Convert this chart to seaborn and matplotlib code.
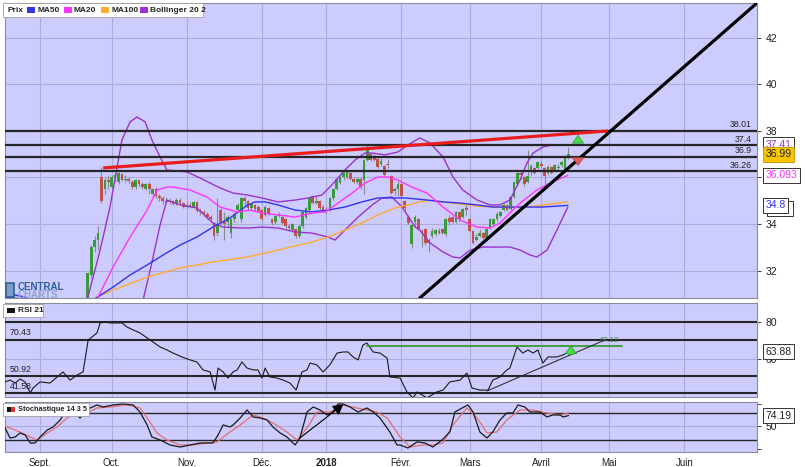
import numpy as np
import pandas as pd
import seaborn as sns
import matplotlib.pyplot as plt
from matplotlib.patches import Rectangle

# ---------------- data ----------------
# x axis = trading-day index, 0 = 1 Sept 2017
month_labels = ["Sept.", "Oct.", "Nov.", "Déc.", "2018", "Févr.", "Mars", "Avril", "Mai", "Juin"]
month_pos = [0, 21, 43, 65, 84, 106, 126, 147, 167, 189]

candle_start = 14
opens = [30.5, 31.8, 33.0, 33.3, 36.0, 35.5, 35.9, 35.6, 36.0, 35.8, 36.15, 35.9, 35.95, 35.8, 35.6, 35.9, 35.7, 35.5, 35.7, 35.3,
         35.5, 35.2, 35.1, 35.0, 34.95, 35.0, 34.85, 35.05, 34.9, 34.75, 34.8, 34.75, 34.95, 34.55, 34.5, 34.45, 34.3, 34.05, 33.6, 34.6,
         34.1, 34.1, 33.6, 34.2, 34.6, 34.2, 35.1, 35.0, 34.7, 34.8, 34.75, 34.6, 34.4, 34.7, 34.2, 34.1, 34.35, 34.3, 34.2, 33.9,
         33.75, 33.8, 33.5, 33.9, 34.3, 34.6, 35.2, 34.9, 35.0, 34.75, 34.55, 34.6, 35.1, 35.5, 35.75, 36.0, 36.0, 36.2, 35.95, 35.8,
         35.95, 35.9, 36.75, 37.0, 36.9, 36.8, 36.6, 36.5, 36.6, 36.05, 35.4, 35.5, 35.7, 35.0, 34.3, 33.15, 34.1, 34.2, 33.7, 33.8,
         33.3, 33.5, 33.55, 33.7, 33.8, 33.55, 34.25, 34.3, 34.1, 34.5, 34.3, 34.7, 34.2, 33.7, 33.3, 33.5, 33.6, 33.4, 33.85, 34.0,
         34.2, 34.35, 34.6, 34.8, 34.65, 35.15, 35.7, 36.2, 36.0, 35.8, 36.25, 36.4, 36.4, 36.6, 36.4, 36.2, 36.45, 36.3, 36.4, 36.55,
         36.3, 36.9]
highs = [31.95, 33.1, 33.5, 33.9, 36.45, 36.0, 36.1, 36.1, 36.2, 36.25, 36.2, 36.1, 36.0, 35.9, 35.95, 35.9, 35.8, 35.75, 35.8, 35.55,
         35.6, 35.3, 35.2, 35.15, 35.1, 35.05, 35.1, 35.1, 34.95, 34.95, 34.95, 35.0, 35.0, 34.7, 34.6, 34.5, 34.4, 34.1, 35.1, 34.7,
         34.5, 34.4, 34.25, 34.5, 34.9, 35.15, 35.2, 35.05, 34.9, 34.85, 34.8, 34.65, 34.8, 34.75, 34.25, 34.4, 34.5, 34.35, 34.25, 34.0,
         34.05, 33.85, 33.95, 34.55, 34.75, 35.15, 35.25, 35.2, 35.05, 34.8, 34.75, 35.15, 35.55, 36.0, 36.05, 36.3, 36.3, 36.25, 36.0, 36.0,
         36.0, 36.8, 37.45, 37.05, 37.0, 36.85, 36.85, 36.55, 36.8, 36.1, 35.6, 35.85, 35.75, 35.05, 34.4, 34.0, 34.4, 34.25, 33.8, 33.85,
         33.4, 33.85, 33.8, 33.85, 33.85, 34.25, 34.4, 34.35, 34.55, 34.55, 34.7, 34.8, 34.25, 33.75, 33.55, 33.8, 33.65, 33.85, 34.25, 34.25,
         34.5, 34.55, 34.9, 34.85, 35.2, 35.85, 36.25, 36.3, 36.05, 37.2, 36.6, 36.45, 36.7, 36.7, 36.45, 36.55, 36.5, 36.6, 36.6, 36.7,
         36.95, 37.3]
lows = [30.4, 31.7, 32.8, 32.9, 34.9, 35.3, 35.5, 35.5, 35.8, 35.7, 35.85, 35.8, 35.75, 35.5, 35.5, 35.6, 35.5, 35.45, 35.3, 35.2,
        35.1, 35.0, 34.85, 34.85, 34.85, 34.8, 34.8, 34.8, 34.7, 34.7, 34.7, 34.7, 34.5, 34.4, 34.35, 34.2, 34.1, 33.3, 33.5, 34.0,
        33.3, 33.9, 33.4, 34.1, 34.5, 34.1, 34.8, 34.6, 34.6, 34.55, 34.5, 34.15, 34.35, 34.4, 33.95, 34.0, 34.3, 34.0, 33.85, 33.7,
        33.65, 33.4, 33.4, 33.85, 34.2, 34.5, 34.85, 34.85, 34.6, 34.5, 34.45, 34.55, 35.05, 35.45, 35.7, 35.9, 35.95, 35.9, 35.75, 35.7,
        35.5, 35.3, 36.7, 36.7, 36.7, 36.4, 36.5, 36.05, 36.4, 35.3, 35.25, 35.2, 35.1, 34.6, 34.0, 32.95, 33.9, 33.75, 33.0, 33.1,
        32.8, 33.4, 33.5, 33.55, 33.55, 33.5, 33.95, 34.05, 34.05, 34.1, 34.25, 34.4, 33.65, 33.15, 33.25, 33.45, 33.35, 33.35, 33.8, 33.95,
        34.15, 34.3, 34.55, 34.55, 34.6, 35.1, 35.65, 35.95, 35.65, 35.75, 36.1, 36.15, 36.35, 36.4, 35.6, 36.1, 36.15, 36.25, 36.3, 36.45,
        36.25, 36.8]
closes = [31.9, 33.0, 33.3, 33.6, 35.0, 35.9, 35.8, 36.0, 36.1, 36.2, 35.9, 35.95, 35.85, 35.6, 35.9, 35.7, 35.6, 35.7, 35.5, 35.5,
          35.2, 35.1, 35.0, 34.95, 35.0, 34.85, 35.05, 34.9, 34.75, 34.8, 34.75, 34.95, 34.55, 34.5, 34.45, 34.3, 34.2, 33.5, 34.0, 34.1,
          34.0, 34.3, 34.2, 34.4, 34.8, 35.1, 35.0, 34.7, 34.85, 34.65, 34.55, 34.2, 34.75, 34.45, 34.05, 34.35, 34.4, 34.05, 33.9, 33.85,
          34.0, 33.5, 33.9, 34.5, 34.7, 35.1, 34.9, 35.0, 34.7, 34.55, 34.6, 35.1, 35.5, 35.95, 36.0, 36.2, 36.25, 35.95, 35.8, 35.95,
          35.6, 36.75, 37.25, 36.75, 36.75, 36.45, 36.7, 36.1, 36.55, 35.35, 35.5, 35.7, 35.2, 34.7, 34.05, 33.95, 34.3, 33.8, 33.6, 33.2,
          33.2, 33.7, 33.75, 33.6, 33.6, 34.2, 34.1, 34.1, 34.5, 34.2, 34.65, 34.6, 33.7, 33.2, 33.45, 33.6, 33.4, 33.8, 34.2, 34.2,
          34.45, 34.5, 34.8, 34.6, 35.15, 35.8, 36.2, 36.1, 35.7, 36.05, 36.5, 36.2, 36.65, 36.5, 36.05, 36.45, 36.2, 36.55, 36.45, 36.65,
          36.9, 36.99]

ma20_pts = [(15.5, 30.3), (17.0, 30.86), (21.4, 32.15), (26.4, 33.44), (31.4, 34.60), (34.3, 35.46), (37.2, 35.59), (39.0, 35.59),
            (44.0, 35.46), (49.0, 35.16), (52.8, 34.73), (57.8, 34.52), (61.6, 34.60), (65.1, 34.47), (69.8, 34.39), (74.8, 34.30),
            (79.8, 34.47), (83.6, 34.52), (87.4, 34.90), (91.5, 35.33), (95.3, 35.76), (99.1, 36.02), (102.0, 36.02), (105.0, 35.89),
            (109.0, 35.59), (113.5, 35.33), (118.2, 34.73), (123.2, 34.17), (128.2, 33.87), (132.0, 33.83), (134.9, 34.04),
            (137.8, 34.47), (140.8, 34.90), (145.7, 35.46), (149.6, 35.76), (154.8, 36.09)]
ma50_pts = [(-10.3, 31.03), (-4.4, 30.86), (-1.0, 30.6), (15.5, 30.73), (21.4, 31.29), (26.4, 31.81), (31.4, 32.24), (36.1, 32.67),
            (41.1, 33.10), (46.0, 33.44), (50.7, 33.87), (55.7, 34.26), (60.7, 34.80), (63.0, 34.95), (66.0, 34.95), (69.8, 34.82),
            (74.8, 34.60), (79.8, 34.52), (84.5, 34.60), (89.4, 34.73), (94.4, 34.95), (99.1, 35.12), (103.2, 35.12), (107.0, 35.12),
            (110.0, 35.08), (113.5, 35.03), (118.2, 34.95), (123.2, 34.90), (128.2, 34.82), (132.8, 34.73), (137.8, 34.73),
            (142.8, 34.73), (147.5, 34.73), (151.6, 34.77), (154.8, 34.80)]
ma100_pts = [(14.7, 30.73), (21.4, 31.16), (31.4, 31.72), (41.1, 32.11), (50.7, 32.37), (60.7, 32.58), (69.8, 32.88), (79.8, 33.23),
             (84.5, 33.44), (89.4, 33.74), (94.4, 34.04), (99.1, 34.39), (104.1, 34.69), (109.1, 34.86), (111.4, 34.95), (114.4, 35.03),
             (118.2, 34.95), (123.2, 34.86), (128.2, 34.77), (132.8, 34.73), (137.8, 34.73), (142.8, 34.73), (147.5, 34.82), (154.8, 34.95)]
boll_up_pts = [(13.8, 30.73), (17.6, 32.88), (20.5, 34.73), (22.6, 36.45), (24.0, 37.61), (26.4, 38.39), (28.4, 38.60), (30.8, 38.39),
               (32.8, 37.61), (35.2, 36.88), (37.2, 36.32), (43.1, 36.24), (46.9, 35.98), (52.8, 35.55), (56.6, 35.33), (60.7, 35.25),
               (65.1, 35.12), (69.8, 34.95), (74.8, 35.03), (78.6, 35.12), (82.7, 35.25), (85.6, 35.68), (89.4, 36.32), (92.4, 36.75),
               (95.3, 37.05), (97.4, 37.05), (101.2, 36.97), (105.0, 37.10), (107.9, 37.40), (111.4, 37.70), (114.4, 37.48),
               (118.2, 36.88), (121.1, 36.02), (124.0, 35.46), (128.2, 35.03), (132.0, 34.82), (134.9, 34.82), (137.8, 35.03),
               (140.8, 35.89), (142.8, 36.62), (144.6, 37.05), (147.5, 37.31), (150.4, 37.40), (154.8, 37.41)]
boll_low_pts = [(-10.3, 30.86), (-4.4, 30.77), (10.0, 29.8), (28.0, 29.8), (30.2, 30.73), (32.3, 32.02), (35.2, 33.96), (37.2, 35.03),
                (41.1, 34.82), (46.0, 34.69), (50.7, 34.04), (53.7, 33.87), (58.7, 33.83), (61.6, 33.83), (65.1, 33.87), (69.8, 33.83),
                (74.8, 33.66), (79.8, 33.61), (84.5, 33.44), (86.5, 33.31), (89.4, 33.74), (93.3, 34.30), (97.4, 34.82), (100.3, 35.12),
                (103.2, 35.16), (106.2, 34.73), (110.0, 33.87), (111.4, 33.74), (114.4, 33.18), (118.2, 32.80), (121.1, 32.58),
                (123.2, 32.54), (126.1, 32.88), (129.9, 33.01), (134.0, 33.01), (137.8, 33.01), (140.8, 32.88), (143.7, 32.67),
                (145.7, 32.58), (148.7, 32.88), (151.6, 33.74), (154.8, 34.73)]

levels = [38.01, 37.4, 36.9, 36.26]
red_trend = [(18.5, 36.41), (166.6, 38.0)]
black_trend = [(111.4, 30.82), (210.3, 43.5)]

rsi_pts = [(-11.7, 50.3), (-10.3, 47.6), (-8.8, 48.6), (-7.3, 47.0), (-5.9, 49.2), (-4.4, 47.6), (-2.9, 41.6), (-2.1, 44.3),
           (0.0, 47.6), (2.9, 47.0), (5.0, 50.3), (6.7, 53.0), (8.8, 48.6), (10.9, 51.4), (12.6, 53.0), (14.1, 70.3), (15.2, 71.9),
           (16.7, 74.1), (17.6, 79.5), (19.1, 80.0), (20.5, 79.5), (22.0, 79.5), (24.0, 79.5), (25.5, 77.3), (27.3, 75.7),
           (29.3, 74.1), (31.4, 71.4), (33.1, 69.2), (35.2, 66.5), (37.2, 64.9), (39.0, 63.2), (41.6, 61.1), (44.0, 59.5),
           (46.0, 58.4), (47.8, 54.1), (49.9, 53.0), (51.3, 43.2), (52.2, 55.1), (53.7, 53.0), (55.1, 49.7), (56.6, 53.0),
           (57.8, 54.1), (59.2, 58.4), (60.7, 55.1), (62.5, 54.1), (63.9, 54.1), (65.1, 49.7), (66.0, 55.1), (67.4, 50.3),
           (69.5, 49.7), (71.3, 48.6), (73.3, 47.0), (75.1, 43.2), (76.8, 53.0), (78.3, 54.1), (79.2, 57.8), (81.2, 56.8),
           (83.0, 53.0), (85.0, 56.8), (87.1, 63.2), (88.9, 63.8), (90.3, 63.8), (91.8, 61.1), (93.3, 59.5), (94.7, 67.6),
           (95.9, 68.6), (97.7, 63.8), (99.7, 63.2), (101.8, 60.5), (102.6, 50.3), (105.6, 49.7), (107.6, 42.2), (109.4, 39.0),
           (110.6, 42.2), (113.5, 39.0), (116.4, 42.2), (118.2, 43.2), (120.2, 47.6), (123.2, 48.6), (125.2, 52.4), (126.7, 44.3),
           (129.0, 43.2), (131.4, 43.2), (132.8, 48.6), (134.9, 50.3), (136.9, 54.1), (137.8, 55.1), (139.9, 66.5), (141.6, 63.2),
           (143.1, 64.9), (144.6, 63.2), (146.0, 64.9), (147.5, 57.8), (149.0, 61.1), (151.6, 61.1), (153.4, 62.2), (155.0, 63.88)]
rsi_levels = [80, 70.43, 50.92, 41.58]
rsi_res = 67.12
rsi_res_span = (95.9, 170.7)
rsi_trend = [(131.1, 42.7), (165.7, 70.3)]

stoch_k_pts = [(-11.7, 75.6), (-10.3, 46.7), (-8.8, 24.4), (-7.3, 26.7), (-5.9, 35.6), (-4.4, 31.1), (-2.9, 13.3), (-1.5, 13.3),
               (0.0, 26.7), (2.1, 42.2), (3.8, 48.9), (5.9, 64.4), (7.3, 82.2), (8.8, 91.1), (10.3, 80.0), (11.7, 68.9), (13.2, 80.0),
               (14.7, 91.1), (16.7, 97.8), (18.5, 93.3), (21.4, 97.8), (24.3, 100.0), (27.3, 97.8), (29.3, 82.2), (31.4, 53.3),
               (32.8, 26.7), (35.2, 20.0), (38.1, 8.9), (41.1, 4.4), (44.0, 8.9), (46.9, 13.3), (50.7, 13.3), (52.2, 31.1),
               (53.7, 53.3), (55.7, 48.9), (56.6, 53.3), (58.7, 68.9), (60.7, 86.7), (62.5, 71.1), (64.5, 68.9), (66.6, 64.4),
               (68.3, 48.9), (70.4, 35.6), (72.4, 26.7), (74.8, 8.9), (76.2, 24.4), (78.3, 82.2), (80.1, 93.3), (82.1, 86.7),
               (84.2, 75.6), (85.9, 82.2), (87.4, 100.0), (88.9, 100.0), (90.9, 93.3), (93.3, 82.2), (95.9, 91.1), (97.7, 82.2),
               (99.7, 68.9), (102.6, 37.8), (104.7, 8.9), (105.6, 8.9), (107.9, 2.2), (110.6, 15.6), (112.9, 13.3), (115.2, 4.4),
               (117.9, 20.0), (120.2, 37.8), (121.7, 82.2), (123.8, 91.1), (125.5, 97.8), (127.0, 82.2), (129.0, 37.8), (131.1, 24.4),
               (132.8, 37.8), (134.9, 64.4), (136.9, 80.0), (138.7, 80.0), (140.2, 97.8), (142.2, 93.3), (143.7, 82.2), (146.6, 82.2),
               (148.7, 71.1), (150.4, 75.6), (152.5, 75.6), (153.4, 71.1), (155.0, 74.19)]
stoch_d_pts = [(-11.7, 53.3), (-8.8, 46.7), (-5.9, 37.8), (-2.9, 26.7), (-0.9, 20.0), (2.1, 35.6), (5.0, 48.9), (7.9, 68.9),
               (10.9, 80.0), (13.8, 80.0), (16.7, 91.1), (20.5, 93.3), (25.5, 97.8), (29.3, 91.1), (31.4, 68.9), (34.3, 35.6),
               (37.2, 20.0), (41.1, 8.9), (44.9, 8.9), (49.0, 13.3), (51.9, 15.6), (55.7, 37.8), (58.7, 53.3), (62.5, 75.6),
               (65.4, 68.9), (68.3, 57.8), (72.4, 37.8), (75.4, 20.0), (78.3, 46.7), (81.2, 82.2), (85.0, 82.2), (88.9, 97.0),
               (93.0, 91.1), (95.9, 86.7), (98.8, 82.2), (101.8, 68.9), (105.6, 26.7), (108.5, 4.4), (112.3, 8.9), (115.2, 8.9),
               (118.2, 13.3), (121.1, 53.3), (125.2, 91.1), (128.2, 68.9), (131.1, 35.6), (134.0, 37.8), (136.9, 64.4),
               (140.8, 86.7), (144.6, 86.7), (148.7, 80.0), (152.5, 75.6), (155.0, 80.0)]
stoch_levels = [80, 20]
stoch_arrow = [(76.2, 24.4), (88.9, 99.0)]

# ---------------- figure ----------------
sns.set_theme(style="white")
plt.rcParams['font.family'] = ['Liberation Sans', 'DejaVu Sans']

W, H = 806, 467
fig = plt.figure(figsize=(W / 100, H / 100), dpi=100, facecolor='white')


def px_box(x0, y0, x1, y1):
    return [x0 / W, 1 - y1 / H, (x1 - x0) / W, (y1 - y0) / H]


ax = fig.add_axes(px_box(5, 3, 757, 298))
ax_rsi = fig.add_axes(px_box(5, 303, 757, 397), sharex=ax)
ax_sto = fig.add_axes(px_box(5, 402, 757, 452), sharex=ax)

BG = '#ccccff'
GRID = '#acacdc'
for a in (ax, ax_rsi, ax_sto):
    a.set_facecolor(BG)
    a.grid(False)
    for m in month_pos:
        a.axvline(m, color=GRID, lw=0.8, zorder=0)
    a.yaxis.tick_right()
    a.tick_params(axis='y', labelsize=7.5, length=3, width=0.6, pad=3, colors='#222222', direction='out')
    a.tick_params(axis='x', length=0)
    for s in a.spines.values():
        s.set_color('#8c8c9c')
        s.set_linewidth(0.8)
ax.set_xlim(-10.3, 210.3)

# ---- main price panel ----
ax.set_ylim(30.82, 43.5)
ax.set_yticks([32, 34, 36, 38, 40, 42])
ax.set_yticklabels(['32', '34', '', '38', '40', '42'])
for t in [32, 34, 36, 38, 40, 42]:
    ax.axhline(t, color=GRID, lw=0.8, zorder=0)
ax.tick_params(axis='x', labelbottom=False)

df = pd.DataFrame({'o': opens, 'h': highs, 'l': lows, 'c': closes})
df['i'] = np.arange(candle_start, candle_start + len(df))
up = df['c'] >= df['o']
ax.vlines(df['i'], df['l'], df['h'], color='#8a8a8a', lw=0.8, zorder=3)
ax.bar(df['i'], (df['c'] - df['o']).abs().clip(lower=0.03), bottom=np.minimum(df['o'], df['c']),
       width=0.8, color=np.where(up, '#3a9a3a', '#c4504a'), edgecolor='none', zorder=4)


def draw_line(a, pts, color, lw=1.0, z=5):
    d = pd.DataFrame(pts, columns=['x', 'y'])
    sns.lineplot(data=d, x='x', y='y', ax=a, color=color, lw=lw, zorder=z, sort=False, estimator=None)


draw_line(ax, boll_up_pts, '#9a33cc', 1.0)
draw_line(ax, boll_low_pts, '#9a33cc', 1.0)
draw_line(ax, ma100_pts, '#ffaa33', 1.0)
draw_line(ax, ma50_pts, '#3333ee', 1.0)
draw_line(ax, ma20_pts, '#ff33ff', 1.0)

for lv in levels:
    ax.axhline(lv, color='#262626', lw=1.6, zorder=6)
    ax.text(208.8, lv + 0.06, f"{lv:g}", ha='right', va='bottom', fontsize=6.3, color='#222222', zorder=7)

ax.plot(*zip(*red_trend), color='#ea1c1c', lw=2.3, zorder=7, solid_capstyle='butt')
ax.plot(*zip(*black_trend), color='black', lw=2.3, zorder=7)

ax.annotate('', xy=(157.8, 37.93), xytext=(157.8, 37.45),
            arrowprops=dict(arrowstyle='simple,head_width=1.0,head_length=0.7,tail_width=0.45',
                            fc='#44dd44', ec='#2a9a2a', lw=0.5, mutation_scale=8), zorder=8)
ax.annotate('', xy=(157.8, 36.40), xytext=(157.8, 36.85),
            arrowprops=dict(arrowstyle='simple,head_width=1.0,head_length=0.7,tail_width=0.45',
                            fc='#e85a5a', ec='#b03a3a', lw=0.5, mutation_scale=8), zorder=8)


def value_box(a, y, txt, color, fc='white', ec='#333333', dx=0.0):
    a.text(1.011 + dx, y, txt, transform=a.get_yaxis_transform(), color=color, fontsize=7.5,
           va='center', ha='left', clip_on=False, zorder=10,
           bbox=dict(boxstyle='square,pad=0.25', fc=fc, ec=ec, lw=0.7))


value_box(ax, 34.68, '34.8', '#ffaa33', dx=0.006)
value_box(ax, 34.8, '34.8', '#3333ee')
value_box(ax, 36.093, '36.093', '#ff33ff')
value_box(ax, 37.41, '37.41', '#9a33cc')
value_box(ax, 36.99, '36.99', '#222222', fc='#f7c600', ec='#c89a00')

# legend
fig.patches.append(Rectangle((3 / W, 1 - 17 / H), 200 / W, 14 / H, transform=fig.transFigure,
                             fc='white', ec='#a0a0a0', lw=0.6))
leg_items = [(None, 'Prix', 7), ('#3333ee', 'MA50', 37), ('#ff33ff', 'MA20', 74), ('#ffaa33', 'MA100', 111),
             ('#9a33cc', 'Bollinger 20 2', 150)]
for col, name, xt in leg_items:
    if col is not None:
        fig.patches.append(Rectangle(((xt - 10) / W, 1 - 13 / H), 8 / W, 6 / H, transform=fig.transFigure,
                                     fc=col, ec='none'))
    fig.text(xt / W, 1 - 10 / H, name, fontsize=6, fontweight='bold', va='center', ha='left', color='#222222')

# logo
fig.patches.append(Rectangle((6 / W, 1 - 297 / H), 8 / W, 14 / H, transform=fig.transFigure,
                             fc='#7d9cc8', ec='#2d5f9a', lw=1.2))
fig.text(18 / W, 1 - 287 / H, 'CENTRAL', fontsize=7, fontweight='bold', color='#2d5f9a', va='center')
fig.text(18 / W, 1 - 295.5 / H, 'CHARTS', fontsize=7, fontweight='bold', color='#8aa6cf', va='center')

# ---- RSI panel ----
ax_rsi.set_ylim(39.46, 90.27)
ax_rsi.set_yticks([60, 80])
ax_rsi.axhline(60, color=GRID, lw=0.8, zorder=0)
ax_rsi.tick_params(axis='x', labelbottom=False)
for lv in rsi_levels:
    ax_rsi.axhline(lv, color='#262626', lw=1.5, zorder=3)
    ax_rsi.text(-9.0, lv + 1.2, f"{lv:.2f}", ha='left', va='bottom', fontsize=6.3, color='#222222', zorder=4)
draw_line(ax_rsi, rsi_pts, '#1a1a1a', 0.8)
ax_rsi.plot(rsi_res_span, [rsi_res, rsi_res], color='#3a9a3a', lw=1.3, zorder=6)
ax_rsi.text(rsi_res_span[1] - 1, rsi_res + 0.8, f"{rsi_res:.2f}", ha='right', va='bottom', fontsize=5.5,
            color='#3a8a3a', zorder=6)
ax_rsi.plot(*zip(*rsi_trend), color='#333333', lw=0.8, zorder=6)
ax_rsi.annotate('', xy=(155.7, 68.6), xytext=(155.7, 61.0),
                arrowprops=dict(arrowstyle='simple,head_width=1.0,head_length=0.7,tail_width=0.45',
                                fc='#44dd44', ec='#2a9a2a', lw=0.5, mutation_scale=8), zorder=8)
value_box(ax_rsi, 63.88, '63.88', '#222222')
fig.patches.append(Rectangle((3 / W, 1 - 317 / H), 40 / W, 13 / H, transform=fig.transFigure,
                             fc='white', ec='#a0a0a0', lw=0.6))
fig.patches.append(Rectangle((7 / W, 1 - 313 / H), 8 / W, 5 / H, transform=fig.transFigure, fc='#111111', ec='none'))
fig.text(18 / W, 1 - 310.5 / H, 'RSI 21', fontsize=6, fontweight='bold', va='center', color='#222222')

# ---- Stochastic panel ----
ax_sto.set_ylim(-6.7, 104.4)
ax_sto.set_yticks([0, 50, 100])
ax_sto.set_yticklabels(['', '50', ''])
ax_sto.axhline(50, color=GRID, lw=0.8, zorder=0)
for lv in stoch_levels:
    ax_sto.axhline(lv, color='#262626', lw=1.0, zorder=3)
draw_line(ax_sto, stoch_d_pts, '#e46e6e', 0.9)
draw_line(ax_sto, stoch_k_pts, '#1a1a1a', 0.9)
ax_sto.annotate('', xy=stoch_arrow[1], xytext=stoch_arrow[0],
                arrowprops=dict(arrowstyle='-|>,head_width=0.35,head_length=0.6', color='black', lw=0.8,
                                mutation_scale=10, shrinkA=0, shrinkB=0), zorder=8)
value_box(ax_sto, 74.19, '74.19', '#222222')
fig.patches.append(Rectangle((3 / W, 1 - 416 / H), 86 / W, 13 / H, transform=fig.transFigure,
                             fc='white', ec='#a0a0a0', lw=0.6))
fig.patches.append(Rectangle((7 / W, 1 - 412 / H), 4 / W, 5 / H, transform=fig.transFigure, fc='#111111', ec='none'))
fig.patches.append(Rectangle((11 / W, 1 - 412 / H), 4 / W, 5 / H, transform=fig.transFigure, fc='#e03030', ec='none'))
fig.text(18 / W, 1 - 409.5 / H, 'Stochastique 14 3 5', fontsize=5.3, fontweight='bold', va='center', color='#222222')

ax_sto.set_xticks(month_pos)
ax_sto.set_xticklabels(month_labels, fontsize=7, color='#222222')
ax_sto.tick_params(axis='x', pad=4)
for lab in ax_sto.get_xticklabels():
    if lab.get_text() == '2018':
        lab.set_fontweight('bold')
for a in (ax, ax_rsi, ax_sto):
    a.set_xlabel('')
    a.set_ylabel('')

fig.savefig('out.png', dpi=100)
